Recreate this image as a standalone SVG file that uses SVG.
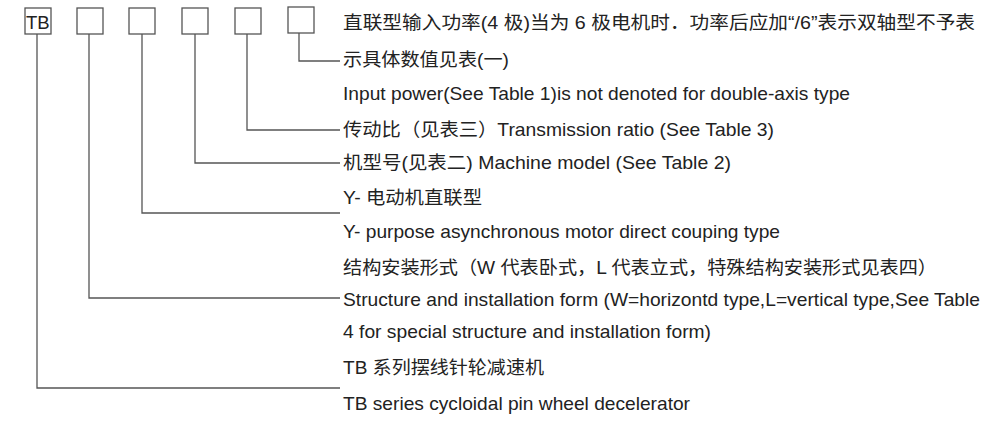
<svg xmlns="http://www.w3.org/2000/svg" width="1000" height="423" viewBox="0 0 1000 423">
<style>
.b{fill:#fff;stroke:#555;stroke-width:1.3}
.c{fill:none;stroke:#555;stroke-width:1.3}
text{font-family:"Liberation Sans","Noto Sans CJK SC",sans-serif;font-size:18.5px;fill:#222}
</style>
<rect width="1000" height="423" fill="#fff"/>
<g id="connectors">
<path class="c" d="M37 34V388H340"/>
<path class="c" d="M89 34V298H340"/>
<path class="c" d="M142 34V213H340"/>
<path class="c" d="M195 34V163H340"/>
<path class="c" d="M247 34V130H340"/>
<path class="c" d="M299 33V61H340"/>
</g>
<g id="n1"><rect class="b" x="25" y="8" width="26" height="26"/><text x="26" y="29" font-size="17">TB</text></g>
<g id="n2"><rect class="b" x="77" y="8" width="26" height="26"/></g>
<g id="n3"><rect class="b" x="129" y="8" width="26" height="26"/></g>
<g id="n4"><rect class="b" x="182" y="8" width="26" height="26"/></g>
<g id="n5"><rect class="b" x="235" y="8" width="26" height="26"/></g>
<g id="n6"><rect class="b" x="288" y="7" width="26" height="26"/></g>
<g id="labels" lengthAdjust="spacingAndGlyphs">
<text x="343" y="29" textLength="632" lengthAdjust="spacingAndGlyphs">直联型输入功率(4 极)当为 6 极电机时．功率后应加“/6”表示双轴型不予表</text>
<text x="343" y="66" textLength="166" lengthAdjust="spacingAndGlyphs">示具体数值见表(一)</text>
<text x="343" y="100" textLength="507" lengthAdjust="spacingAndGlyphs">Input power(See Table 1)is not denoted for double-axis type</text>
<text x="343" y="136" textLength="431" lengthAdjust="spacingAndGlyphs">传动比（见表三）Transmission ratio (See Table 3)</text>
<text x="343" y="169" textLength="388" lengthAdjust="spacingAndGlyphs">机型号(见表二)  Machine model (See Table 2)</text>
<text x="343" y="204" textLength="139" lengthAdjust="spacingAndGlyphs">Y- 电动机直联型</text>
<text x="343" y="238" textLength="437" lengthAdjust="spacingAndGlyphs">Y- purpose asynchronous motor direct couping type</text>
<text x="343" y="274" textLength="594" lengthAdjust="spacingAndGlyphs">结构安装形式（W 代表卧式，L 代表立式，特殊结构安装形式见表四）</text>
<text x="343" y="306" textLength="637" lengthAdjust="spacingAndGlyphs">Structure and installation form (W=horizontd type,L=vertical type,See Table</text>
<text x="343" y="338" textLength="368" lengthAdjust="spacingAndGlyphs">4 for special structure and installation form)</text>
<text x="343" y="374" textLength="201" lengthAdjust="spacingAndGlyphs">TB 系列摆线针轮减速机</text>
<text x="343" y="410" textLength="347" lengthAdjust="spacingAndGlyphs">TB series cycloidal pin wheel decelerator</text>
</g>
</svg>
